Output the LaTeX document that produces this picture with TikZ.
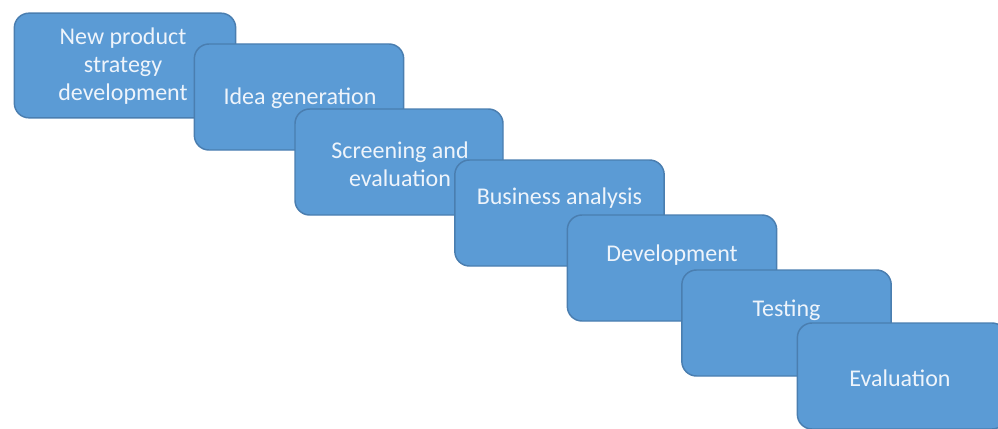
\documentclass[tikz,border=0pt]{standalone}
\usepackage{fontspec}
\setmainfont{Carlito}
\usetikzlibrary{positioning}

\definecolor{stepfill}{HTML}{5B9BD5}
\definecolor{stepline}{HTML}{4A7EB0}
\definecolor{steptext}{HTML}{EEF4FB}

\begin{document}
\begin{tikzpicture}[
    x=0.75pt,
    y=-0.75pt,
    font=\fontsize{18}{21}\selectfont,
    stepbox/.style={
        rectangle,
        rounded corners=11pt,
        draw=stepline,
        line width=1.1pt,
        fill=stepfill,
        minimum width=157pt,
        minimum height=79.5pt,
        inner sep=0pt
    },
    steplabel/.style={
        align=center,
        text=steptext,
        inner sep=0pt
    }
]

% Frame of the picture
\useasboundingbox (0,0) rectangle (998,428);
\clip (0,0) rectangle (998,428);

% Steps, each one below right of the previous
\node[stepbox, minimum width=166pt, minimum height=78.5pt] (strategy) at (125,65.5) {};
\node[steplabel] (strategytext) at ([shift={(-2,1)}]strategy.center) {New product\\strategy\\development};

\node[stepbox] (idea) at ([shift={(174,31.5)}]strategy.center) {};
\node[steplabel] (ideatext) at ([shift={(1,1)}]idea.center) {Idea generation};

\node[stepbox, minimum width=156pt] (screen) at ([shift={(100,65)}]idea.center) {};
\node[steplabel] (screentext) at ([shift={(1,2)}]screen.center) {Screening and\\evaluation};

\node[stepbox] (business) at ([shift={(160.5,51)}]screen.center) {};
\node[steplabel] (businesstext) at ([shift={(0,-15)}]business.center) {Business analysis};

\node[stepbox] (develop) at ([shift={(112.5,55)}]business.center) {};
\node[steplabel] (developtext) at ([shift={(0,-13)}]develop.center) {Development};

\node[stepbox] (testing) at ([shift={(114.5,55)}]develop.center) {};
\node[steplabel] (testingtext) at ([shift={(0,-13)}]testing.center) {Testing};

\node[stepbox] (evaluate) at ([shift={(115.5,53)}]testing.center) {};
\node[steplabel] (evaluatetext) at ([shift={(-2,2)}]evaluate.center) {Evaluation};

\end{tikzpicture}
\end{document}
